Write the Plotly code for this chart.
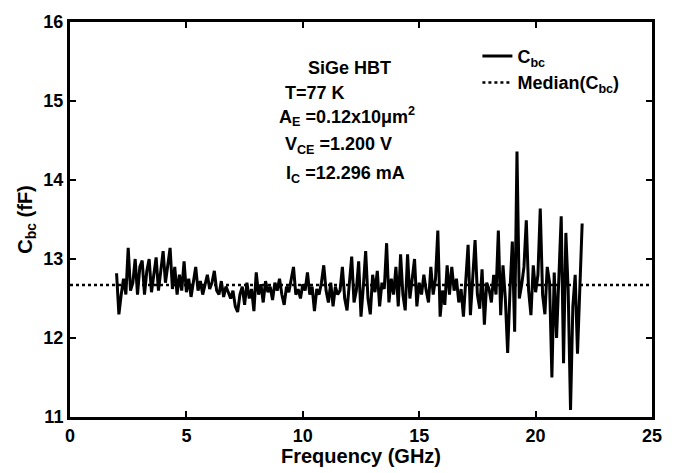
import numpy as np
import plotly.graph_objects as go

# Frequency grid (GHz) of the measured Cbc trace
freq_start = 2.0
freq_stop = 22.0
freq_step = 0.1
freq = np.round(np.arange(freq_start, freq_stop + freq_step / 2, freq_step), 2)

# Cbc (fF)
cbc = [
    12.82, 12.30, 12.55, 12.75, 12.55, 13.14, 12.60, 12.70, 13.00, 12.55,
    12.90, 12.98, 12.55, 12.85, 13.00, 12.58, 12.80, 13.02, 12.60, 12.85,
    13.10, 12.70, 12.95, 13.14, 12.62, 12.90, 12.55, 12.80, 12.60, 12.97,
    12.58, 12.75, 12.52, 12.70, 12.90, 12.60, 12.72, 12.55, 12.68, 12.80,
    12.62, 12.70, 12.85, 12.60, 12.55, 12.72, 12.52, 12.65, 12.58, 12.50,
    12.60, 12.40, 12.33, 12.55, 12.65, 12.42, 12.70, 12.50, 12.62, 12.34,
    12.83, 12.55, 12.68, 12.45, 12.72, 12.58, 12.65, 12.48, 12.70, 12.60,
    12.75, 12.55, 12.42, 12.65, 12.58, 12.72, 12.90, 12.55, 12.62, 12.50,
    12.68, 12.60, 12.83, 12.55, 12.65, 12.34, 12.62, 12.55, 12.70, 12.92,
    12.60, 12.45, 12.70, 12.40, 12.65, 12.55, 12.60, 12.90, 12.50, 12.35,
    12.75, 13.03, 12.45, 12.60, 12.97, 12.27, 12.65, 13.10, 12.50, 12.30,
    12.80, 12.58, 12.85, 12.40, 12.70, 12.62, 13.20, 12.45, 12.75, 12.55,
    12.90, 12.40, 13.06, 12.55, 12.35, 13.06, 12.50, 12.75, 13.00, 12.40,
    12.70, 12.55, 12.80, 12.60, 12.45, 12.90, 12.55, 12.75, 13.36, 12.27,
    12.60, 12.42, 12.92, 12.55, 12.90, 12.60, 12.75, 12.45, 12.62, 12.27,
    12.70, 13.18, 12.29, 12.80, 13.24, 12.55, 12.37, 12.87, 12.17, 12.70,
    12.62, 12.45, 12.80, 12.55, 13.36, 12.29, 12.92, 12.50, 11.81, 12.60,
    13.22, 12.08, 14.36, 12.50, 12.67, 12.90, 13.49, 12.60, 12.29, 12.92,
    12.58, 12.80, 13.64, 12.55, 12.30, 12.90, 12.70, 11.50, 12.83, 12.00,
    12.75, 13.54, 11.68, 13.33, 12.60, 11.09, 12.40, 12.80, 11.80, 12.55,
    13.45,
]

# Median line
median_x = [0, 25]
median_value = 12.67

x_ticks = [0, 5, 10, 15, 20, 25]
y_ticks = [11, 12, 13, 14, 15, 16]

FONT = "Arial, Liberation Sans, sans-serif"

fig = go.Figure()
fig.add_trace(go.Scatter(
    x=freq, y=cbc, mode="lines", name="C<sub>bc</sub>",
    line=dict(color="black", width=3),
))
fig.add_trace(go.Scatter(
    x=median_x, y=[median_value] * len(median_x), mode="lines",
    name="Median(C<sub>bc</sub>)",
    line=dict(color="black", width=2.5, dash="dot"),
))

axis_common = dict(
    showline=True, linecolor="black", linewidth=3, mirror="ticks",
    ticks="inside", ticklen=6, tickwidth=2, tickcolor="black",
    showgrid=False, zeroline=False,
    tickfont=dict(family=FONT, size=18, color="black", weight="bold"),
)

fig.update_layout(
    width=679, height=473,
    margin=dict(l=70, r=27, t=15, b=56),
    paper_bgcolor="white", plot_bgcolor="white",
    showlegend=True,
    legend=dict(
        x=0.70, y=0.96, xanchor="left", yanchor="top",
        bgcolor="rgba(0,0,0,0)", borderwidth=0,
        font=dict(family=FONT, size=18, color="black", weight="bold"),
        tracegroupgap=0, itemwidth=30,
    ),
    xaxis=dict(range=[0, 25], tickvals=x_ticks, **axis_common),
    yaxis=dict(
        range=[11, 16], tickvals=y_ticks,
        title=dict(text="C<sub>bc</sub> (fF)", standoff=6,
                   font=dict(family=FONT, size=20, color="black", weight="bold")),
        **axis_common,
    ),
)

# x-axis title placed as a text just above the bottom edge
fig.add_annotation(
    text="Frequency (GHz)", xref="paper", yref="paper",
    x=0.5, y=(417 - 457) / 402, xanchor="center", yanchor="middle",
    showarrow=False,
    font=dict(family=FONT, size=20, color="black", weight="bold"),
)

ann_font = dict(family=FONT, size=18, color="black", weight="bold")
annotations = [
    ("SiGe HBT", 349, 61.5, "center"),
    ("T=77 K", 283, 87, "left"),
    ("A<sub>E</sub> =0.12x10\u03bcm<sup>2</sup>", 277, 111, "left"),
    ("V<sub>CE</sub> =1.200 V", 283, 141, "left"),
    ("I<sub>C</sub> =12.296 mA", 284, 170, "left"),
]
for text, px, py, anchor in annotations:
    fig.add_annotation(
        text=text, xref="paper", yref="paper",
        x=(px - 70) / 582, y=(417 - py) / 402,
        xanchor=anchor, yanchor="middle", showarrow=False,
        font=ann_font,
    )

fig.write_html(
    "out.html",
    config={"displayModeBar": False},
    post_script="document.body.style.margin='0px';document.body.style.overflow='hidden';",
)
